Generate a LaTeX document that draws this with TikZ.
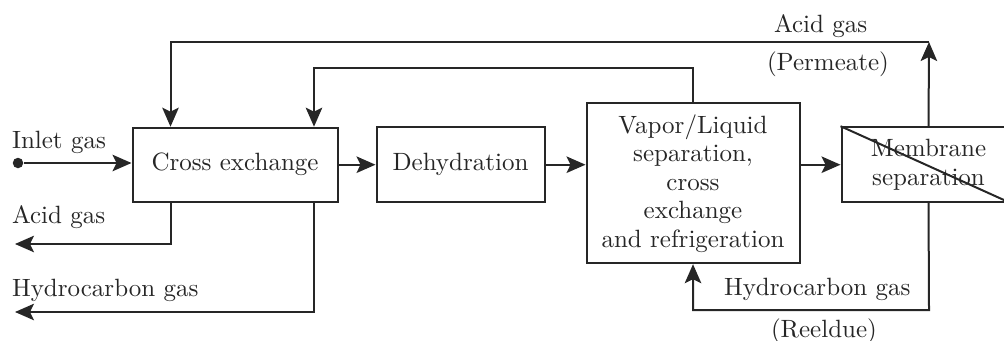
\documentclass[tikz,border=0pt]{standalone}
\usetikzlibrary{arrows.meta, positioning}
\definecolor{ink}{HTML}{262626}
\begin{document}
\begin{tikzpicture}[x=0.4pt, y=-0.4pt, >={Stealth[length=7.6pt, width=6.6pt, inset=1.6pt]},
  line width=0.8pt, color=ink, font=\fontsize{10}{11.4}\selectfont,
  unit/.style={draw, rectangle, align=center, minimum width=82pt, minimum height=29.6pt, inner sep=2pt},
  tag/.style={anchor=base west, inner sep=0pt},
  flow/.style={->}]
\useasboundingbox (0,0) rectangle (1004,340);
			% process units
			\node[unit] (CX) at (235,164.7) {Cross exchange};
			\node[unit, minimum width=67.2pt, minimum height=30pt] (DH) [right=14.8pt of CX] {Dehydration};
			\node[unit, minimum width=85.2pt, minimum height=64pt] (VL) [right=16pt of DH, yshift=-7.4pt]
			  {Vapor/Liquid\\separation,\\cross\\exchange\\and refrigeration};
			\node[unit, minimum width=69.6pt, minimum height=30pt] (MEM) [right=16pt of VL, yshift=7.4pt]
			  {Membrane\\separation};
			\draw (MEM.north west) -- ([yshift=-1pt]MEM.south east);
			
			% inlet
			\node[circle, fill, inner sep=0pt, minimum size=4.2pt] (IN) at (18,163) {};
			\draw[flow] (IN) -- (IN -| CX.west);
			\draw[flow] (CX) -- (DH);
			\draw[flow] (DH.east) -- (DH.east -| VL.west);
			\draw[flow] (MEM.west -| VL.east) -- (MEM.west);
			
			% recycle lines
			\coordinate (PT) at (929,42);
			\coordinate (VT) at (693,68);
			\coordinate (RB) at (929,310);
			\draw[flow] (MEM.north) -- (PT);
			\draw[flow] (PT) -| ([xshift=15.6pt]CX.north west);
			\draw[flow] (VL.north) |- (VT) -| ([xshift=-9.8pt]CX.north east);
			\draw[flow] (MEM.south) -- (RB) -| (VL.south);
			
			% products
			\coordinate (AO) at (15,244);
			\coordinate (HO) at (15,312);
			\draw[flow] ([xshift=15.6pt]CX.south west) |- (AO);
			\draw[flow] ([xshift=-9.8pt]CX.south east) |- (HO);
			
			% labels
			\node[tag] (tIN) at (11,148) {Inlet gas};
			\node[tag] (tAO) at (11,223) {Acid gas};
			\node[tag] (tHO) at (11,296) {Hydrocarbon gas};
			\node[tag] (tAP) at (773,32) {Acid gas};
			\node[tag] (tPM) at (766,70) {(Permeate)};
			\node[tag] (tHR) at (723,295) {Hydrocarbon gas};
			\node[tag] (tRD) at (770,337) {(Reeldue)};
		\end{tikzpicture}
\end{document}
